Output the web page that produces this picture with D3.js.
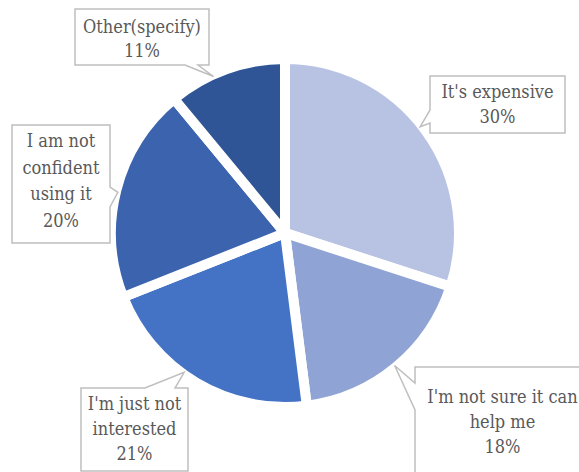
<!DOCTYPE html>
<html>
<head>
<meta charset="utf-8">
<script src="https://cdn.jsdelivr.net/npm/d3@7"></script>
<style>
  html, body { margin: 0; padding: 0; background: #ffffff; }
  svg { display: block; }
</style>
</head>
<body>
<svg id="chart" width="579" height="472"></svg>
<script>
// Reasons for not using it (share of respondents)
const categories = ["It's expensive", "I'm not sure it can help me", "I'm just not interested", "I am not confident using it", "Other(specify)"];
const values = [30, 18, 21, 20, 11];
const labelLines = [
  ["It's expensive", "30%"],
  ["I'm not sure it can", "help me", "18%"],
  ["I'm just not", "interested", "21%"],
  ["I am not", "confident", "using it", "20%"],
  ["Other(specify)", "11%"]
];
const colors = ["#B8C3E4", "#8FA3D4", "#4472C4", "#3B63AE", "#2F5597"];

// Callout boxes: rectangle, side the pointer leaves from, pointer base on that side,
// and how far across the slice (0..1) the pointer touches the rim
const callouts = [
  { x: 430, y: 76,  w: 135, h: 57,  side: "left",   b0: 110, b1: 123, at: 0.48, first: 98,  lh: 25 },
  { x: 415, y: 367, w: 175, h: 110, side: "left",   b0: 383, b1: 410, at: 0.5,  first: 403, lh: 25 },
  { x: 81,  y: 388, w: 107, h: 83,  side: "top",    b0: 145, b1: 175, at: 0.57, first: 410, lh: 25 },
  { x: 12,  y: 125, w: 98,  h: 118, side: "right",  b0: 187, b1: 207, at: 0.49, first: 147, lh: 26.5 },
  { x: 75,  y: 9,   w: 134, h: 56,  side: "bottom", b0: 185, b1: 198, at: 0.38, first: 33,  lh: 24 }
];

const FONT = "'DejaVu Serif Condensed', 'DejaVu Serif', serif";

const svg = d3.select("#chart");
const cx = 285, cy = 233;
const outerR = 174;

const pie = d3.pie().sort(null).value(d => d);
const arcs = pie(values);
const arc = d3.arc().innerRadius(0).outerRadius(outerR);

const g = svg.append("g").attr("transform", `translate(${cx},${cy})`);
g.selectAll("path")
  .data(arcs)
  .join("path")
  .attr("d", arc)
  .attr("fill", (d, i) => colors[i])
  .attr("stroke", "#ffffff")
  .attr("stroke-width", 10)
  .attr("stroke-linejoin", "miter");

// Pointer tip sits on the rim of its slice
function tipPoint(a, at) {
  const ang = a.startAngle + (a.endAngle - a.startAngle) * at;
  const r = outerR - 2;
  return [cx + r * Math.sin(ang), cy - r * Math.cos(ang)];
}

function calloutPath(c, tip) {
  const x0 = c.x, y0 = c.y, x1 = c.x + c.w, y1 = c.y + c.h;
  const p = d3.path();
  p.moveTo(x0, y0);
  if (c.side === "top") { p.lineTo(c.b0, y0); p.lineTo(tip[0], tip[1]); p.lineTo(c.b1, y0); }
  p.lineTo(x1, y0);
  if (c.side === "right") { p.lineTo(x1, c.b0); p.lineTo(tip[0], tip[1]); p.lineTo(x1, c.b1); }
  p.lineTo(x1, y1);
  if (c.side === "bottom") { p.lineTo(c.b1, y1); p.lineTo(tip[0], tip[1]); p.lineTo(c.b0, y1); }
  p.lineTo(x0, y1);
  if (c.side === "left") { p.lineTo(x0, c.b1); p.lineTo(tip[0], tip[1]); p.lineTo(x0, c.b0); }
  p.closePath();
  return p.toString();
}

const labels = svg.append("g");
arcs.forEach((a, i) => {
  const c = callouts[i];
  const tip = tipPoint(a, c.at);
  labels.append("path")
    .attr("d", calloutPath(c, tip))
    .attr("fill", "#ffffff")
    .attr("stroke", "#BFBFBF")
    .attr("stroke-width", 1.5);
  const t = labels.append("text")
    .attr("text-anchor", "middle")
    .style("font-family", FONT)
    .style("font-stretch", "condensed")
    .attr("font-size", 18)
    .attr("fill", "#595959");
  labelLines[i].forEach((line, k) => {
    t.append("tspan")
      .attr("x", c.x + c.w / 2)
      .attr("y", c.first + k * c.lh)
      .text(line);
  });
});
</script>
</body>
</html>
